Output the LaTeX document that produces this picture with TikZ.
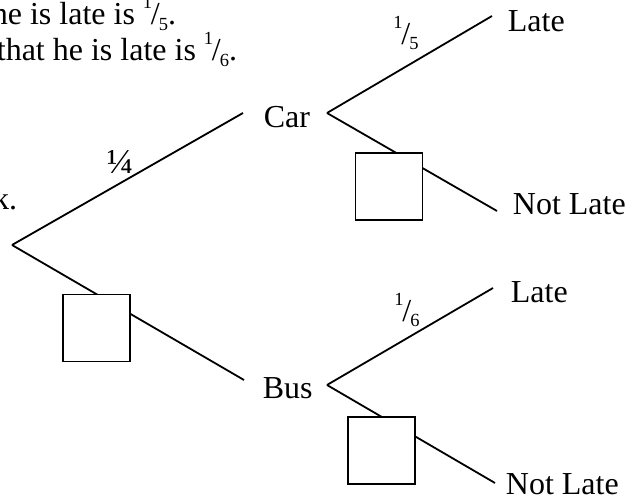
\documentclass[tikz,border=0pt]{standalone}
\usepackage{fontspec}
\setmainfont{Liberation Serif}
\newcommand\sfr[2]{\raisebox{0.5em}{\fontsize{18.5}{18.5}\selectfont #1}\kern-0.04em/\kern-0.03em\raisebox{-0.17em}{\fontsize{18.5}{18.5}\selectfont #2}}
\begin{document}
\begin{tikzpicture}[x=1pt,y=-1pt,line width=1.8pt,
  lbl/.style={inner sep=0pt,anchor=base west,font=\fontsize{32}{38}\selectfont},
  frac/.style={inner sep=0pt,font=\fontsize{32}{38}\selectfont},
  choice/.style={draw,fill=white,minimum size=67pt,inner sep=0pt}]
\useasboundingbox (0,0) rectangle (630,500);
\clip (0,0) rectangle (630,500);
% intro text (cut off at the left, as in the reference)
\node[lbl,anchor=base east] (t1) at (177,25) {he is late is \sfr15.};
\node[lbl,anchor=base east] (t2) at (238,61) {that he is late is \sfr16.};
\node[lbl,anchor=base east] (t3) at (18,210) {k.};
% outcome labels
\node[lbl] (car) at (263,128) {Car};
\node[lbl] (bus) at (262,398) {Bus};
\node[lbl] (l1) at (507,32) {Late};
\node[lbl] (n1) at (512,215) {Not Late};
\node[lbl] (l2) at (510,302) {Late};
\node[lbl] (n2) at (505,494) {Not Late};
% branch end points
\coordinate (root) at (12,245);
\coordinate (carin) at (243,113);
\coordinate (carout) at (327,113);
\coordinate (busin) at (244,380);
\coordinate (busout) at (327,385);
\coordinate (l1e) at (492,16);
\coordinate (n1e) at (497,211);
\coordinate (l2e) at (493,288);
\coordinate (n2e) at (495,483);
% branches
\draw (root) -- (carin);
\draw (root) -- (busin);
\draw (carout) -- (l1e);
\draw (carout) -- (n1e);
\draw (busout) -- (l2e);
\draw (busout) -- (n2e);
% empty answer boxes
\node[choice] (b1) at (96.5,328) {};
\node[choice] (b2) at (389,186.5) {};
\node[choice] (b3) at (381.5,450.5) {};
% probabilities
\node[frac,font=\fontsize{35}{38}\selectfont] (p14) at (120,162) {¼};
\node[frac] (p15) at (406,33) {\sfr15};
\node[frac] (p16) at (407,310) {\sfr16};
\end{tikzpicture}
\end{document}
